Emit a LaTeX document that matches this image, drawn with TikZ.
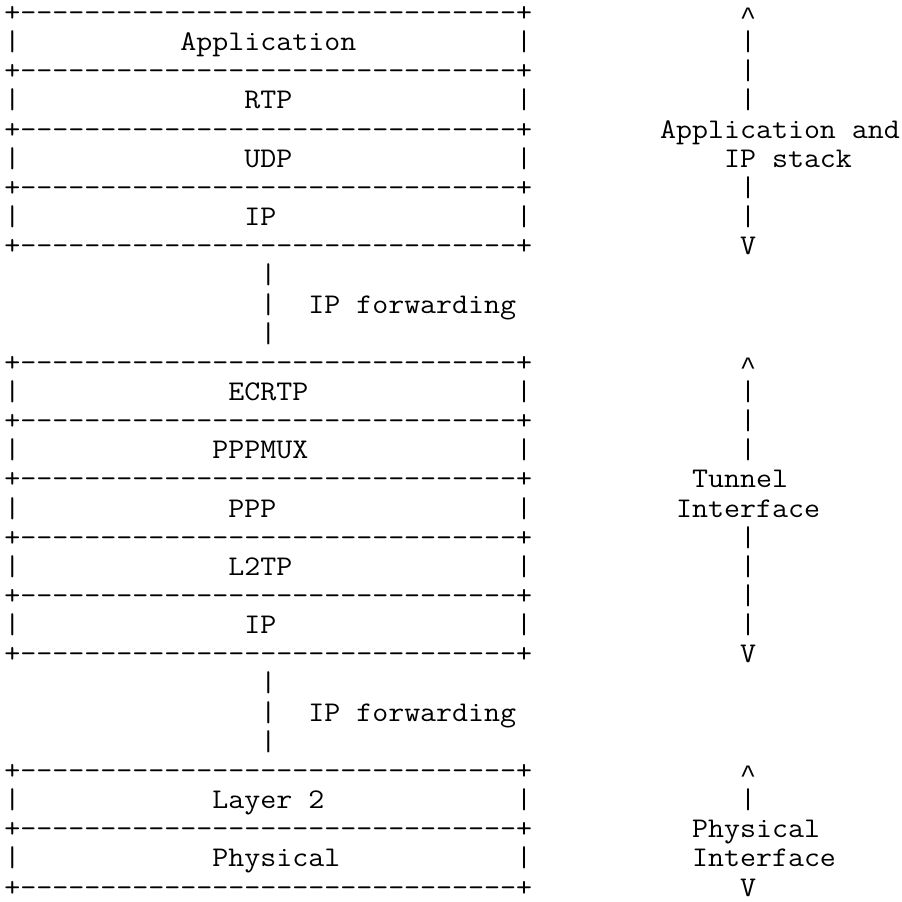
\documentclass[tikz,border=0pt]{standalone}
\usepackage{fontspec}
\usepackage{graphicx}
\newfontfamily\caretfont{Liberation Mono}
\newcommand\asciifont{\ttfamily\fontsize{28.5}{29.15}\selectfont}
\newlength\asciicw
\tikzset{
  mono/.style={anchor=base west, inner sep=0pt, outer sep=0pt,
    font=\asciifont, text=black}
}
% #1 name, #2 column, #3 row, #4 text
\newcommand\cellat[4]{\node[mono] (#1) at ({4.5+15.99*#2},{-(21.5+29.15*#3)}) {\scalebox{\asciixs}[1]{#4}};}
\newcommand\borderline[2]{\cellat{#1}{0}{#2}{+-------------------------------+}}
\newcommand\sidebars[2]{\cellat{#1l}{0}{#2}{|}\cellat{#1r}{32}{#2}{|}}
\newcommand\uparr{\raisebox{-3pt}{\caretfont\fontsize{25}{29}\selectfont\makebox[\asciicw]{\char"5E}}}
\begin{document}
\settowidth\asciicw{\asciifont M}
\pgfmathsetmacro\asciixs{15.99/\asciicw}
\begin{tikzpicture}[x=1pt,y=1pt]
\path[use as bounding box] (0,0) rectangle (902,-902);
% upper stack
\borderline{b0}{0}
\sidebars{s1}{1} \cellat{app}{11}{1}{Application}
\borderline{b2}{2}
\sidebars{s3}{3} \cellat{rtp}{15}{3}{RTP}
\borderline{b4}{4}
\sidebars{s5}{5} \cellat{udp}{15}{5}{UDP}
\borderline{b6}{6}
\sidebars{s7}{7} \cellat{ipa}{15}{7}{IP}
\borderline{b8}{8}
% forwarding 1
\cellat{f9}{16}{9}{|}
\cellat{f10}{16}{10}{|} \cellat{fwd1}{19}{10}{IP forwarding}
\cellat{f11}{16}{11}{|}
% tunnel stack
\borderline{b12}{12}
\sidebars{s13}{13} \cellat{ecrtp}{14}{13}{ECRTP}
\borderline{b14}{14}
\sidebars{s15}{15} \cellat{pppmux}{13}{15}{PPPMUX}
\borderline{b16}{16}
\sidebars{s17}{17} \cellat{ppp}{14}{17}{PPP}
\borderline{b18}{18}
\sidebars{s19}{19} \cellat{l2tp}{14}{19}{L2TP}
\borderline{b20}{20}
\sidebars{s21}{21} \cellat{ipb}{15}{21}{IP}
\borderline{b22}{22}
% forwarding 2
\cellat{f23}{16}{23}{|}
\cellat{f24}{16}{24}{|} \cellat{fwd2}{19}{24}{IP forwarding}
\cellat{f25}{16}{25}{|}
% physical stack
\borderline{b26}{26}
\sidebars{s27}{27} \cellat{l2}{13}{27}{Layer 2}
\borderline{b28}{28}
\sidebars{s29}{29} \cellat{phy}{13}{29}{Physical}
\borderline{b30}{30}
% right column: application and IP stack
\cellat{u0}{46}{0}{\uparr}
\cellat{r1}{46}{1}{|}
\cellat{r2}{46}{2}{|}
\cellat{r3}{46}{3}{|}
\cellat{lab1}{41}{4}{Application and}
\cellat{lab2}{45}{5}{IP stack}
\cellat{r6}{46}{6}{|}
\cellat{r7}{46}{7}{|}
\cellat{v8}{46}{8}{V}
% right column: tunnel interface
\cellat{u12}{46}{12}{\uparr}
\cellat{r13}{46}{13}{|}
\cellat{r14}{46}{14}{|}
\cellat{r15}{46}{15}{|}
\cellat{lab3}{43}{16}{Tunnel}
\cellat{lab4}{42}{17}{Interface}
\cellat{r18}{46}{18}{|}
\cellat{r19}{46}{19}{|}
\cellat{r20}{46}{20}{|}
\cellat{r21}{46}{21}{|}
\cellat{v22}{46}{22}{V}
% right column: physical interface
\cellat{u26}{46}{26}{\uparr}
\cellat{r27}{46}{27}{|}
\cellat{lab5}{43}{28}{Physical}
\cellat{lab6}{43}{29}{Interface}
\cellat{v30}{46}{30}{V}
\end{tikzpicture}
\end{document}
